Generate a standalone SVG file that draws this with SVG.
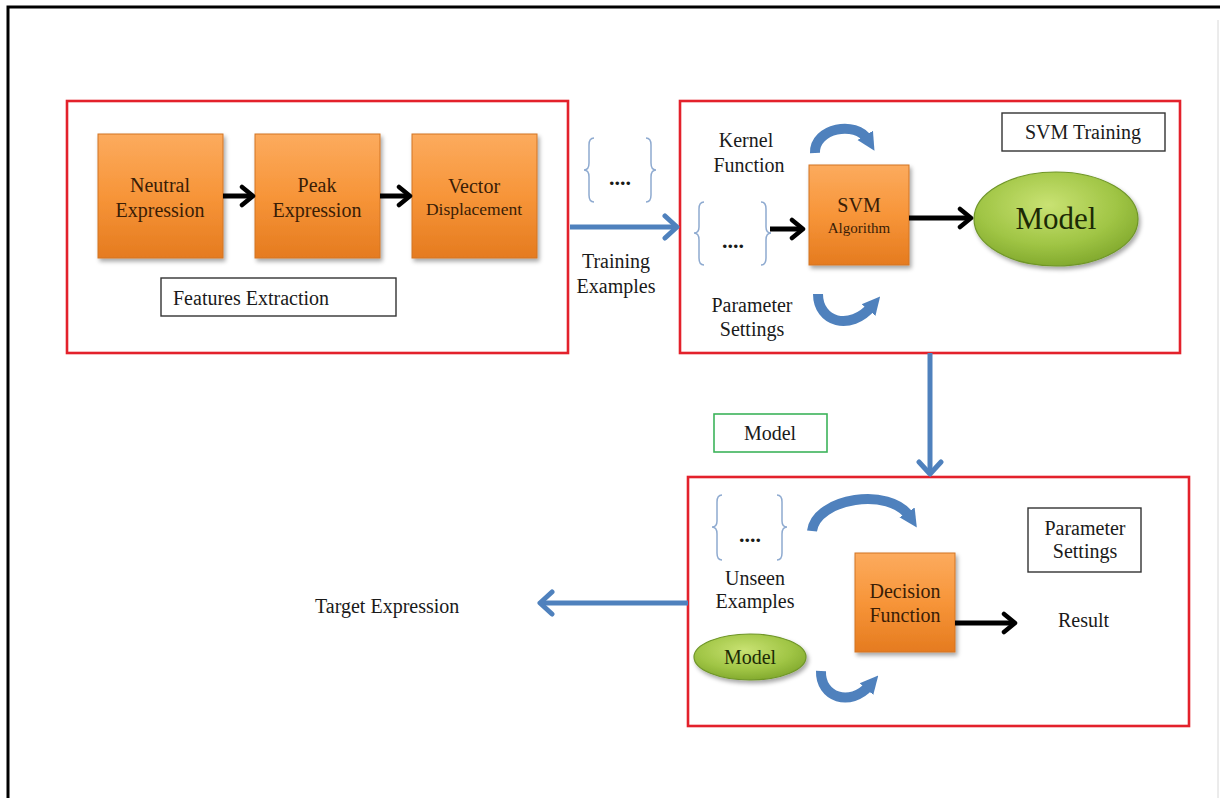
<svg xmlns="http://www.w3.org/2000/svg" width="1220" height="798" viewBox="0 0 1220 798">
<style>
text{font-family:"Liberation Serif","Times New Roman",serif;fill:#1a1a1a;font-size:20px}
.c{text-anchor:middle}
.ot{fill:#3a1d06}
.red{fill:none;stroke:#e3212b;stroke-width:2.6}
.lbl{fill:#fff;stroke:#333;stroke-width:1.4}
.orng{fill:url(#og);stroke:#d27424;stroke-width:1;filter:url(#sh)}
.grn{fill:url(#gg);stroke:#6f9628;stroke-width:1.2;filter:url(#sh)}
.br{fill:none;stroke:#8eaad0;stroke-width:1.5}
.dots{font-size:22px;font-weight:bold}
.bl{fill:none;stroke:#4f81bd;stroke-width:5;marker-end:url(#bch)}
.bk{fill:none;stroke:#000;stroke-width:5;marker-end:url(#kch)}
.cv{fill:none;stroke:#4f81bd;stroke-width:10;marker-end:url(#cb)}
</style>
<defs>
<linearGradient id="og" x1="0" y1="0" x2="0" y2="1">
<stop offset="0" stop-color="#fcab5e"/>
<stop offset="0.5" stop-color="#f79539"/>
<stop offset="1" stop-color="#e57b1f"/>
</linearGradient>
<radialGradient id="gg" cx="0.45" cy="0.35" r="0.7">
<stop offset="0" stop-color="#c9e273"/>
<stop offset="0.6" stop-color="#a0c545"/>
<stop offset="1" stop-color="#7da52a"/>
</radialGradient>
<filter id="sh" x="-20%" y="-20%" width="150%" height="150%">
<feDropShadow dx="2" dy="3" stdDeviation="2" flood-color="#000" flood-opacity="0.35"/>
</filter>
<marker id="bch" viewBox="0 0 20 28" refX="16" refY="14" markerWidth="20" markerHeight="28" orient="auto" markerUnits="userSpaceOnUse">
<path d="M4,3 L16,14 L4,25" fill="none" stroke="#4f81bd" stroke-width="5" stroke-linecap="round" stroke-linejoin="round"/>
</marker>
<marker id="kch" viewBox="0 0 18 24" refX="14" refY="12" markerWidth="18" markerHeight="24" orient="auto" markerUnits="userSpaceOnUse">
<path d="M3,3 L14,12 L3,21" fill="none" stroke="#000" stroke-width="4.5" stroke-linecap="round" stroke-linejoin="round"/>
</marker>
<marker id="cb" viewBox="0 0 10 10" refX="3" refY="5" markerWidth="18" markerHeight="24" orient="auto" markerUnits="userSpaceOnUse">
<path d="M0,0 L10,5 L0,10 z" fill="#4f81bd"/>
</marker>
</defs>
<rect width="1220" height="798" fill="#fff"/>
<g id="frame">
<path d="M8,798 L8,7 L1220,7" fill="none" stroke="#000" stroke-width="3"/>
<line x1="1218" y1="20" x2="1218" y2="798" stroke="#d8d8d8" stroke-width="1"/>
</g>

<g id="features-group">
<rect class="red" x="67" y="101" width="501" height="252"/>
</g>
<g id="neutral"><rect class="orng" x="98" y="134" width="125" height="124"/><text class="c ot" x="160" y="192">Neutral</text><text class="c ot" x="160" y="217">Expression</text></g>
<g id="peak"><rect class="orng" x="255" y="134" width="125" height="124"/><text class="c ot" x="317" y="192">Peak</text><text class="c ot" x="317" y="217">Expression</text></g>
<g id="vector"><rect class="orng" x="412" y="134" width="125" height="124"/><text class="c ot" x="474" y="193">Vector</text><text class="c ot" x="474" y="215" style="font-size:17.5px">Displacement</text></g>
<g id="features-label"><rect class="lbl" x="161" y="278" width="235" height="38"/><text x="173" y="305">Features Extraction</text></g>

<g id="training-brace" transform="translate(584,138)">
<path class="br" d="M10,0 Q5,0 5,7 L5,25 Q5,32 0,32 Q5,32 5,39 L5,57 Q5,64 10,64"/>
<path class="br" d="M62,0 Q67,0 67,7 L67,25 Q67,32 72,32 Q67,32 67,39 L67,57 Q67,64 62,64"/>
<text class="c dots" x="36" y="47">....</text>
</g>
<g id="training-label"><text class="c" x="616" y="268">Training</text><text class="c" x="616" y="293">Examples</text></g>

<g id="svm-training-group"><rect class="red" x="680" y="101" width="500" height="252"/></g>
<g id="svm-training-label"><rect class="lbl" x="1002" y="113" width="163" height="38"/><text class="c" x="1083" y="139">SVM Training</text></g>
<g id="kernel-label"><text class="c" x="746" y="147">Kernel</text><text class="c" x="749" y="172">Function</text></g>
<g id="param-label"><text class="c" x="752" y="312">Parameter</text><text class="c" x="752" y="336">Settings</text></g>
<g id="input-brace" transform="translate(694,202)">
<path class="br" d="M10,0 Q5,0 5,7 L5,25 Q5,31 0,31 Q5,31 5,38 L5,56 Q5,63 10,63"/>
<path class="br" d="M67,0 Q72,0 72,7 L72,25 Q72,31 77,31 Q72,31 72,38 L72,56 Q72,63 67,63"/>
<text class="c dots" x="39" y="46">....</text>
</g>
<g id="svm-algorithm"><rect class="orng" x="809" y="165" width="100" height="100"/><text class="c ot" x="859" y="212">SVM</text><text class="c ot" x="859" y="233" style="font-size:15px">Algorithm</text></g>
<g id="model-big"><ellipse class="grn" cx="1056" cy="219" rx="82" ry="47"/><text class="c" x="1056" y="229" style="font-size:31px;fill:#1c2a05">Model</text></g>

<g id="model-transfer-label"><rect x="714" y="414" width="113" height="38" fill="#fff" stroke="#3cb35a" stroke-width="1.6"/><text class="c" x="770" y="440">Model</text></g>

<g id="decision-group"><rect class="red" x="688" y="477" width="501" height="249"/></g>
<g id="unseen-brace" transform="translate(712,495)">
<path class="br" d="M10,0 Q5,0 5,7 L5,26 Q5,32 0,32 Q5,32 5,39 L5,58 Q5,65 10,65"/>
<path class="br" d="M65,0 Q70,0 70,7 L70,26 Q70,32 75,32 Q70,32 70,39 L70,58 Q70,65 65,65"/>
<text class="c dots" x="38" y="47">....</text>
</g>
<g id="unseen-label"><text class="c" x="755" y="585">Unseen</text><text class="c" x="755" y="608">Examples</text></g>
<g id="model-small"><ellipse class="grn" cx="750" cy="657" rx="56" ry="23"/><text class="c" x="750" y="664" style="fill:#1c2a05">Model</text></g>
<g id="decision-function"><rect class="orng" x="855" y="553" width="100" height="99"/><text class="c ot" x="905" y="598">Decision</text><text class="c ot" x="905" y="622">Function</text></g>
<g id="param-box"><rect class="lbl" x="1028" y="508" width="113" height="64"/><text class="c" x="1085" y="535">Parameter</text><text class="c" x="1085" y="558">Settings</text></g>
<g id="result"><text x="1058" y="627">Result</text></g>
<g id="target"><text x="315" y="613">Target Expression</text></g>

<g id="connectors">
<line class="bk" x1="223" y1="196" x2="253" y2="196"/>
<line class="bk" x1="380" y1="196" x2="410" y2="196"/>
<line class="bl" x1="570" y1="227" x2="677" y2="227"/>
<line class="bk" x1="770" y1="229" x2="803" y2="229"/>
<line class="bk" x1="909" y1="218" x2="971" y2="218"/>
<line class="bl" x1="930" y1="353" x2="930" y2="474"/>
<line class="bk" x1="955" y1="623" x2="1015" y2="623"/>
<line class="bl" x1="688" y1="603" x2="540" y2="603"/>
<path class="cv" d="M815,153 C814,128 856,120 868,140"/>
<path class="cv" d="M818,294 C818,322 850,332 872,306"/>
<path class="cv" d="M812,531 C816,498 890,486 910,517"/>
<path class="cv" d="M821,671 C820,697 850,708 870,685"/>
</g>
</svg>
